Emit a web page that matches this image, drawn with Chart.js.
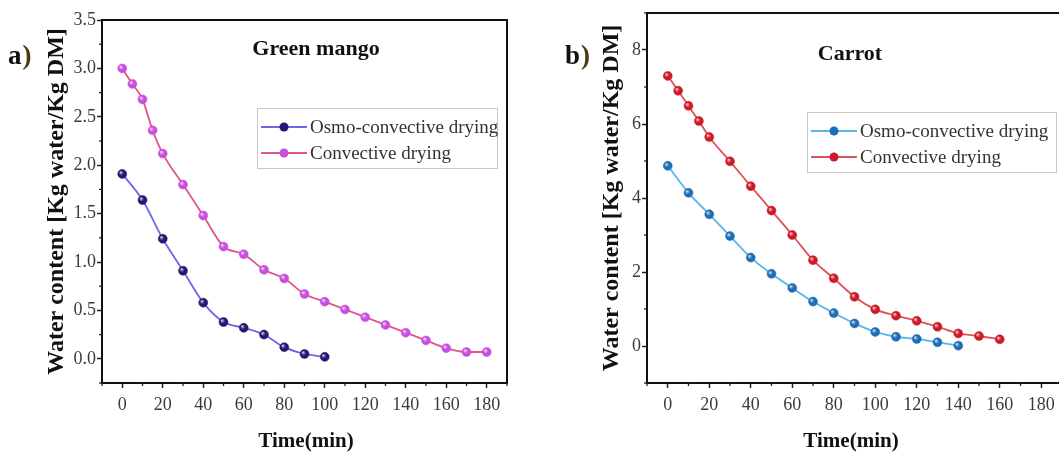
<!DOCTYPE html>
<html>
<head>
<meta charset="utf-8">
<script src="https://cdn.jsdelivr.net/npm/chart.js@4.4.0/dist/chart.umd.min.js"></script>
<style>
  html, body { margin: 0; padding: 0; background: #fff; overflow: hidden; width: 1059px; height: 457px; }
  canvas { position: absolute; top: 0; }
  #mango { left: 0; }
  #carrot { left: 530px; }
</style>
</head>
<body>
<canvas id="mango" width="530" height="457"></canvas>
<canvas id="carrot" width="580" height="457"></canvas>
<script>
// values
const mangoOsmoTime = [0, 10, 20, 30, 40, 50, 60, 70, 80, 90, 100];
const mangoOsmo = [1.91, 1.64, 1.24, 0.91, 0.58, 0.38, 0.32, 0.25, 0.12, 0.05, 0.02];
const mangoConvTime = [0, 5, 10, 15, 20, 30, 40, 50, 60, 70, 80, 90, 100, 110, 120, 130, 140, 150, 160, 170, 180];
const mangoConv = [3.00, 2.84, 2.68, 2.36, 2.12, 1.80, 1.48, 1.16, 1.08, 0.92, 0.83, 0.67, 0.59, 0.51, 0.43, 0.35, 0.27, 0.19, 0.11, 0.07, 0.07];

const carrotOsmoTime = [0, 10, 20, 30, 40, 50, 60, 70, 80, 90, 100, 110, 120, 130, 140];
const carrotOsmo = [4.87, 4.14, 3.56, 2.97, 2.39, 1.95, 1.57, 1.20, 0.89, 0.61, 0.38, 0.25, 0.19, 0.10, 0.01];
const carrotConvTime = [0, 5, 10, 15, 20, 30, 40, 50, 60, 70, 80, 90, 100, 110, 120, 130, 140, 150, 160];
const carrotConv = [7.30, 6.90, 6.49, 6.08, 5.65, 4.99, 4.32, 3.66, 3.00, 2.32, 1.83, 1.33, 0.99, 0.82, 0.68, 0.52, 0.34, 0.27, 0.18];

const timeTicks = [0, 20, 40, 60, 80, 100, 120, 140, 160, 180];
const timeMinor = [-10, 10, 30, 50, 70, 90, 110, 130, 150, 170, 190];
const mangoTicks = [0, 0.5, 1.0, 1.5, 2.0, 2.5, 3.0, 3.5];
const mangoMinor = [-0.25, 0.25, 0.75, 1.25, 1.75, 2.25, 2.75, 3.25];
const carrotTicks = [0, 2, 4, 6, 8];
const carrotMinor = [-1, 1, 3, 5, 7, 9];

const seriesNames = ['Osmo-convective drying', 'Convective drying'];
const yTitle = 'Water content [Kg water/Kg DM]';
const xTitle = 'Time(min)';

const serif = '"Liberation Serif", "Times New Roman", serif';

// frame, minor ticks, panel letter, inner title, legend, x title
const panelPlugin = {
  id: 'panel',
  afterDatasetsDraw(chart) {
    const ctx = chart.ctx;
    ctx.save();
    chart.data.datasets.forEach((ds, i) => {
      chart.getDatasetMeta(i).data.forEach(p => {
        const g = ctx.createRadialGradient(p.x - 1.6, p.y - 1.6, 0.3, p.x, p.y, 5);
        g.addColorStop(0, 'rgba(255,255,255,0.75)');
        g.addColorStop(0.45, 'rgba(255,255,255,0)');
        ctx.fillStyle = g;
        ctx.beginPath();
        ctx.arc(p.x, p.y, 5, 0, Math.PI * 2);
        ctx.fill();
      });
    });
    ctx.restore();
  },
  afterDraw(chart, args, o) {
    const {ctx, chartArea: a} = chart;
    const xs = chart.scales.x, ys = chart.scales.y;
    ctx.save();

    ctx.strokeStyle = '#111';
    ctx.lineWidth = 2;
    ctx.beginPath();
    ctx.moveTo(a.left - 1, a.top);
    ctx.lineTo(a.right, a.top);
    ctx.lineTo(a.right, a.bottom + 1);
    ctx.stroke();

    ctx.lineWidth = 1.3;
    ctx.strokeStyle = '#222';
    o.xMinor.forEach(v => {
      const px = xs.getPixelForValue(v);
      ctx.beginPath(); ctx.moveTo(px, a.bottom); ctx.lineTo(px, a.bottom + 3); ctx.stroke();
    });
    o.yMinor.forEach(v => {
      const py = ys.getPixelForValue(v);
      ctx.beginPath(); ctx.moveTo(a.left, py); ctx.lineTo(a.left - 3, py); ctx.stroke();
    });

    // panel letter
    ctx.textBaseline = 'alphabetic';
    ctx.textAlign = 'left';
    ctx.font = 'bold 27px ' + serif;
    ctx.fillStyle = '#111';
    ctx.fillText(o.letter, o.letterX, 64);
    const lw = ctx.measureText(o.letter).width;
    ctx.fillStyle = '#4a3c12';
    ctx.fillText(')', o.letterX + lw + 1, 64);

    // inner title
    ctx.textAlign = 'center';
    ctx.fillStyle = '#111';
    ctx.font = 'bold 22px ' + serif;
    ctx.fillText(o.title, a.left + o.titleDx, o.titleY);

    // x axis title
    ctx.textBaseline = 'middle';
    ctx.font = 'bold 21px ' + serif;
    ctx.fillText(xTitle, a.left + 204, 442);

    // legend
    const bx = a.left + o.legendDx, by = o.legendY, bw = o.legendW, bh = 60;
    ctx.fillStyle = '#fff';
    ctx.fillRect(bx, by, bw, bh);
    ctx.strokeStyle = '#c8c8c8';
    ctx.lineWidth = 1;
    ctx.strokeRect(bx + 0.5, by + 0.5, bw, bh);
    ctx.textAlign = 'left';
    ctx.font = '19px ' + serif;
    chart.data.datasets.forEach((ds, i) => {
      const ry = by + 19 + i * 26;
      ctx.strokeStyle = ds.borderColor;
      ctx.lineWidth = 1.8;
      ctx.beginPath(); ctx.moveTo(bx + 4, ry); ctx.lineTo(bx + 50, ry); ctx.stroke();
      ctx.fillStyle = ds.pointBackgroundColor;
      ctx.beginPath(); ctx.arc(bx + 27, ry, 4.5, 0, Math.PI * 2); ctx.fill();
      ctx.fillStyle = '#333';
      ctx.fillText(ds.label, bx + 53, ry + 1);
    });
    ctx.restore();
  }
};

function pts(xs, ys) {
  return xs.map((t, i) => ({x: t, y: ys[i]}));
}

function makeChart(id, c) {
  return new Chart(document.getElementById(id), {
    type: 'line',
    data: {
      datasets: [
        {
          label: seriesNames[0],
          data: pts(c.osmoTime, c.osmo),
          borderColor: c.osmoLine,
          pointBackgroundColor: c.osmoDot,
          pointBorderColor: c.osmoDot,
          borderWidth: 1.8,
          pointRadius: 4.5,
          pointBorderWidth: 0.5,
          cubicInterpolationMode: 'monotone'
        },
        {
          label: seriesNames[1],
          data: pts(c.convTime, c.conv),
          borderColor: c.convLine,
          pointBackgroundColor: c.convDot,
          pointBorderColor: c.convDot,
          borderWidth: 1.8,
          pointRadius: 4.5,
          pointBorderWidth: 0.5,
          cubicInterpolationMode: 'monotone'
        }
      ]
    },
    options: {
      responsive: false,
      animation: false,
      devicePixelRatio: 1,
      layout: {padding: {left: 0, top: c.top, right: c.right, bottom: 0}},
      plugins: {
        legend: {display: false},
        tooltip: {enabled: false},
        panel: c.panel
      },
      scales: {
        x: {
          type: 'linear',
          min: -10,
          max: 190,
          afterBuildTicks: s => { s.ticks = timeTicks.map(v => ({value: v})); },
          afterFit: s => { s.height = 74; },
          grid: {drawOnChartArea: false, tickLength: 5, tickWidth: 1.5, tickColor: '#222'},
          border: {width: 2, color: '#111'},
          ticks: {font: {family: serif, size: 18}, color: '#3a3a3a', padding: 6, maxRotation: 0, autoSkip: false}
        },
        y: {
          min: c.yMin,
          max: c.yMax,
          afterBuildTicks: s => { s.ticks = c.yTicks.map(v => ({value: v})); },
          afterFit: s => { s.width = c.yWidth; },
          grid: {drawOnChartArea: false, tickLength: 5, tickWidth: 1.5, tickColor: '#222'},
          border: {width: 2, color: '#111'},
          ticks: {font: {family: serif, size: 18}, color: '#3a3a3a', padding: 1, autoSkip: false, callback: c.fmt},
          title: {
            display: true,
            text: yTitle,
            color: '#111',
            font: {family: serif, size: 24, weight: 'bold'},
            padding: {top: c.yTitlePad, bottom: 0}
          }
        }
      }
    },
    plugins: [panelPlugin]
  });
}

makeChart('mango', {
  osmoTime: mangoOsmoTime, osmo: mangoOsmo,
  convTime: mangoConvTime, conv: mangoConv,
  osmoLine: '#6a6ae6', osmoDot: '#2a1670',
  convLine: '#e0558c', convDot: '#c84ee0',
  yMin: -0.25, yMax: 3.5, yTicks: mangoTicks,
  fmt: v => v.toFixed(1),
  top: 20, right: 23, yWidth: 102, yTitlePad: 42,
  panel: {letter: 'a', letterX: 8, title: 'Green mango', titleDx: 214, titleY: 55,
          legendDx: 155, legendY: 108, legendW: 240, xMinor: timeMinor, yMinor: mangoMinor}
});

makeChart('carrot', {
  osmoTime: carrotOsmoTime, osmo: carrotOsmo,
  convTime: carrotConvTime, conv: carrotConv,
  osmoLine: '#58b6ea', osmoDot: '#1e6db5',
  convLine: '#e2505a', convDot: '#cc1a28',
  yMin: -1, yMax: 9, yTicks: carrotTicks,
  fmt: v => String(v),
  top: 13, right: 48, yWidth: 117, yTitlePad: 67,
  panel: {letter: 'b', letterX: 35, title: 'Carrot', titleDx: 203, titleY: 60,
          legendDx: 160, legendY: 112, legendW: 249, xMinor: timeMinor, yMinor: carrotMinor}
});
</script>
</body>
</html>
